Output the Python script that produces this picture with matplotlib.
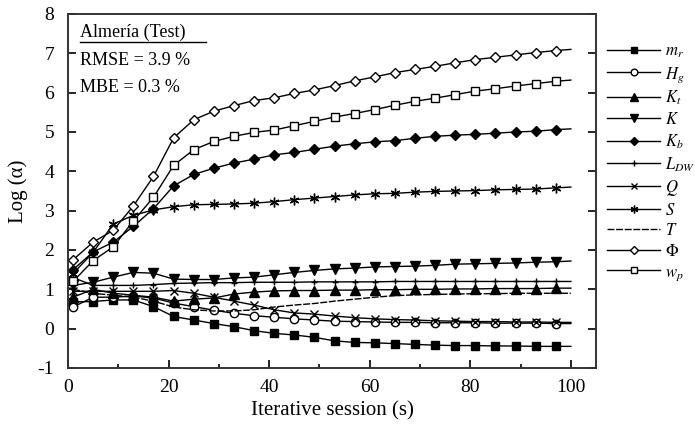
import matplotlib
matplotlib.use("Agg")
import matplotlib.pyplot as plt
import numpy as np

plt.rcParams['font.family'] = ['Liberation Serif', 'DejaVu Serif']
plt.rcParams['mathtext.fontset'] = 'stix'
plt.rcParams['axes.unicode_minus'] = False

x = [1, 5, 9, 13, 17, 21, 25, 29, 33, 37, 41, 45, 49, 53, 57, 61, 65, 69, 73, 77, 81, 85, 89, 93, 97, 100]

m_r = [0.68, 0.69, 0.73, 0.73, 0.56, 0.31, 0.22, 0.13, 0.05, -0.05, -0.12, -0.16, -0.22, -0.31, -0.35, -0.36,
       -0.38, -0.40, -0.42, -0.43, -0.43, -0.44, -0.44, -0.45, -0.45, -0.45]
H_g = [0.55, 0.80, 0.80, 0.83, 0.78, 0.65, 0.56, 0.47, 0.39, 0.33, 0.29, 0.25, 0.22, 0.19, 0.18, 0.17,
       0.16, 0.16, 0.15, 0.15, 0.15, 0.14, 0.14, 0.14, 0.13, 0.13]
K_t = [0.80, 1.00, 0.90, 0.85, 0.80, 0.70, 0.75, 0.78, 0.88, 0.93, 0.96, 0.97, 0.97, 0.98, 0.98, 0.99,
       0.99, 1.00, 1.00, 1.01, 1.01, 1.02, 1.02, 1.02, 1.03, 1.03]
K = [1.10, 1.18, 1.31, 1.43, 1.41, 1.26, 1.25, 1.25, 1.29, 1.31, 1.37, 1.43, 1.48, 1.52, 1.54, 1.57,
     1.58, 1.59, 1.61, 1.64, 1.65, 1.66, 1.67, 1.69, 1.70, 1.72]
K_b = [1.50, 1.95, 2.20, 2.60, 3.05, 3.63, 3.92, 4.08, 4.21, 4.31, 4.42, 4.48, 4.56, 4.64, 4.70, 4.75,
       4.78, 4.84, 4.89, 4.92, 4.94, 4.97, 5.00, 5.02, 5.06, 5.08]
L_DW = [1.30, 1.10, 1.10, 1.10, 1.12, 1.15, 1.16, 1.17, 1.17, 1.18, 1.18, 1.18, 1.19, 1.19, 1.19, 1.19,
        1.20, 1.20, 1.20, 1.20, 1.20, 1.20, 1.20, 1.20, 1.20, 1.20]
Q = [0.95, 0.95, 0.95, 0.95, 0.95, 0.97, 0.90, 0.80, 0.70, 0.60, 0.48, 0.40, 0.37, 0.32, 0.28, 0.25,
     0.23, 0.22, 0.20, 0.19, 0.18, 0.18, 0.17, 0.17, 0.16, 0.16]
S = [1.40, 1.94, 2.66, 2.88, 3.02, 3.10, 3.15, 3.16, 3.17, 3.19, 3.23, 3.28, 3.32, 3.36, 3.40, 3.43,
     3.44, 3.47, 3.49, 3.50, 3.51, 3.53, 3.54, 3.55, 3.58, 3.60]
T = [1.00, 0.90, 0.85, 0.80, 0.70, 0.55, 0.48, 0.45, 0.45, 0.48, 0.55, 0.60, 0.64, 0.70, 0.75, 0.80,
     0.84, 0.86, 0.87, 0.88, 0.89, 0.89, 0.90, 0.90, 0.90, 0.90]
Phi = [1.75, 2.20, 2.50, 3.12, 3.87, 4.85, 5.31, 5.53, 5.67, 5.80, 5.87, 5.98, 6.07, 6.18, 6.30, 6.40,
       6.51, 6.59, 6.67, 6.76, 6.84, 6.90, 6.96, 7.02, 7.07, 7.10]
w_p = [1.20, 1.73, 2.08, 2.74, 3.34, 4.15, 4.55, 4.76, 4.89, 4.99, 5.05, 5.16, 5.27, 5.38, 5.47, 5.57,
       5.68, 5.78, 5.86, 5.95, 6.04, 6.10, 6.17, 6.23, 6.29, 6.32]

labels = [r'$m_r$', r'$H_g$', r'$K_t$', r'$K$', r'$K_b$', r'$L_{DW}$', r'$Q$', r'$S$', r'$T$', r'$\Phi$', r'$w_p$']
series = [m_r, H_g, K_t, K, K_b, L_DW, Q, S, T, Phi, w_p]

styles = [
    dict(marker='s', mfc='black', ms=5.5),
    dict(marker='o', mfc='white', ms=6),
    dict(marker='^', mfc='black', ms=6.5),
    dict(marker='v', mfc='black', ms=6.5),
    dict(marker='D', mfc='black', ms=5),
    dict(marker='+', mfc='black', ms=5),
    dict(marker='x', mfc='black', ms=6),
    dict(marker=(6, 2, 0), mfc='black', ms=7),
    dict(marker='None'),
    dict(marker='D', mfc='white', ms=5),
    dict(marker='s', mfc='white', ms=5.5),
]

fig = plt.figure(figsize=(6.95, 4.30), dpi=100)
ax = fig.add_axes([68/695, 1-368/430, 528/695, 354/430])

n_mark = len(x) - 1
for lab, ys, st in zip(labels, series, styles):
    ls = (0, (5, 1.2)) if lab == r'$T$' else '-'
    ax.plot(x, ys, color='black', lw=1.0, linestyle=ls, mec='black', mew=1.0,
            markevery=slice(0, n_mark), label=lab, **st)

ax.set_xlim(0, 105)
ax.set_ylim(-1, 8)
ax.set_xticks([0, 20, 40, 60, 80, 100])
ax.set_xticks([10, 30, 50, 70, 90], minor=True)
ax.set_yticks(range(-1, 9))
ax.tick_params(axis='both', which='both', direction='in', labelsize=14, width=1.2)
ax.tick_params(axis='both', which='major', length=6)
ax.tick_params(axis='x', which='minor', length=3)
ax.tick_params(axis='x', pad=8)
ax.tick_params(axis='y', right=True, pad=10)
for sp in ax.spines.values():
    sp.set_linewidth(1.4)
    sp.set_color('#333333')

ax.set_xlabel('Iterative session (s)', fontsize=15, labelpad=4)
ax.set_ylabel('Log (α)', fontsize=15, labelpad=7)

ax.text(0.023, 0.949, 'Almería (Test)', transform=ax.transAxes, fontsize=13, va='center', ha='left')
ax.plot([0.023, 0.262], [0.922, 0.922], transform=ax.transAxes, color='black', lw=1.0)
ax.text(0.023, 0.870, 'RMSE = 3.9 %', transform=ax.transAxes, fontsize=13, va='center', ha='left')
ax.text(0.023, 0.791, 'MBE = 0.3 %', transform=ax.transAxes, fontsize=13, va='center', ha='left')

fig.legend(loc='upper left', bbox_to_anchor=(607/695, 1-44/430), frameon=False, fontsize=12,
           handlelength=3.2, handletextpad=0.3, labelspacing=0.27, borderaxespad=0, borderpad=0,
           markerscale=0.8)

fig.savefig('out.png', dpi=100)
